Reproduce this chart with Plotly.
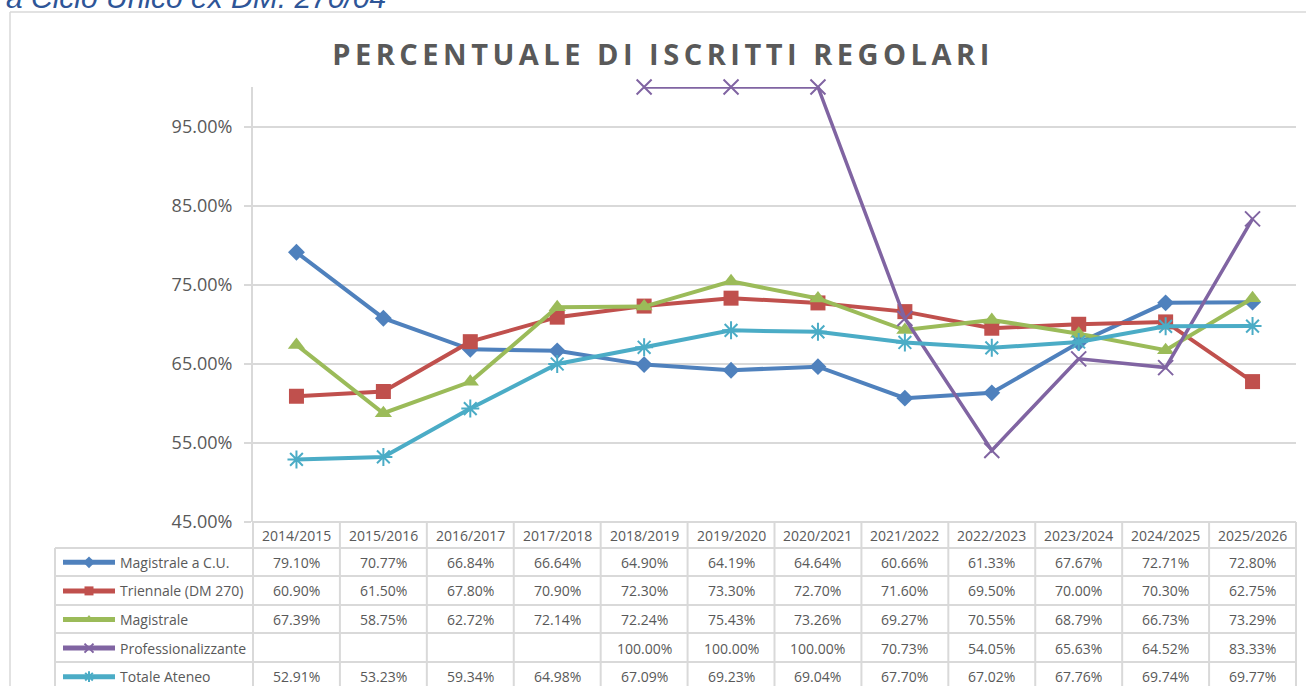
import plotly.graph_objects as go

W, H = 1306, 686

categories = ["2014/2015", "2015/2016", "2016/2017", "2017/2018", "2018/2019", "2019/2020",
              "2020/2021", "2021/2022", "2022/2023", "2023/2024", "2024/2025", "2025/2026"]

series_names = ["Magistrale a C.U.", "Triennale (DM 270)", "Magistrale",
                "Professionalizzante", "Totale Ateneo"]

magistrale_cu = [79.10, 70.77, 66.84, 66.64, 64.90, 64.19, 64.64, 60.66, 61.33, 67.67, 72.71, 72.80]
triennale = [60.90, 61.50, 67.80, 70.90, 72.30, 73.30, 72.70, 71.60, 69.50, 70.00, 70.30, 62.75]
magistrale = [67.39, 58.75, 62.72, 72.14, 72.24, 75.43, 73.26, 69.27, 70.55, 68.79, 66.73, 73.29]
professionalizzante = [None, None, None, None, 100.00, 100.00, 100.00, 70.73, 54.05, 65.63, 64.52, 83.33]
totale_ateneo = [52.91, 53.23, 59.34, 64.98, 67.09, 69.23, 69.04, 67.70, 67.02, 67.76, 69.74, 69.77]

series_values = [magistrale_cu, triennale, magistrale, professionalizzante, totale_ateneo]

y_ticks = [45, 55, 65, 75, 85, 95]
y_ticktext = [f"{v:.2f}%" for v in y_ticks]

colors = ["#4F81BD", "#C0504D", "#9BBB59", "#8064A2", "#4BACC6"]
symbols = ["diamond", "square", "triangle-up", "x-thin-open", "asterisk-open"]
msizes = [13, 15, 15, 15, 15]

TXT = "#595959"
GRID = "#D9D9D9"
FONT = "Open Sans"


def px(x):
    return x / W


def py(y):
    return 1 - y / H


# plot area in pixels
PL, PR, PT, PB = 253, 1296, 87, 522
BOTTOM = H

fig = go.Figure()

for name, vals, c, s, ms in zip(series_names, series_values, colors, symbols, msizes):
    thin = s.endswith("-open")
    fig.add_trace(go.Scatter(
        x=categories, y=vals, name=name, mode="lines+markers",
        line=dict(color=c, width=3.5 if s.startswith("x") else 4),
        marker=dict(symbol=s, size=ms, color=c,
                    line=dict(color=c, width=2 if thin else 0)),
        cliponaxis=False, connectgaps=False, showlegend=False,
    ))

# table geometry
col_w = (PR - PL) / len(categories)
row_edges = [522, 548, 576, 605, 633, 662]
shapes = []
annotations = []

# chart outer frame (left and top edges; right/bottom fall outside the view)
shapes.append(dict(type="line", xref="paper", yref="paper", x0=px(10), x1=px(10),
                   y0=py(BOTTOM), y1=py(12), line=dict(color=GRID, width=1.5), layer="below"))
shapes.append(dict(type="line", xref="paper", yref="paper", x0=px(10), x1=1,
                   y0=py(12), y1=py(12), line=dict(color=GRID, width=1.5), layer="below"))

# horizontal table lines
shapes.append(dict(type="line", xref="paper", yref="paper", x0=px(PL), x1=px(PR),
                   y0=py(row_edges[0]), y1=py(row_edges[0]), line=dict(color=GRID, width=2)))
for ry in row_edges[1:]:
    shapes.append(dict(type="line", xref="paper", yref="paper", x0=px(55), x1=px(PR),
                       y0=py(ry), y1=py(ry), line=dict(color=GRID, width=2)))
# vertical table lines
for k in range(len(categories) + 1):
    xx = PL + k * col_w
    shapes.append(dict(type="line", xref="paper", yref="paper", x0=px(xx), x1=px(xx),
                       y0=py(row_edges[0]), y1=py(BOTTOM), line=dict(color=GRID, width=2)))
shapes.append(dict(type="line", xref="paper", yref="paper", x0=px(55), x1=px(55),
                   y0=py(row_edges[1]), y1=py(BOTTOM), line=dict(color=GRID, width=2)))

TF = dict(family=FONT, size=14, color=TXT)

# header labels
for k, cat in enumerate(categories):
    annotations.append(dict(xref="paper", yref="paper", x=px(PL + (k + 0.5) * col_w),
                            y=py((row_edges[0] + row_edges[1]) / 2), text=cat, showarrow=False,
                            xanchor="center", yanchor="middle", font=TF))

# row labels and values
row_h = 28.6
for r, (name, vals) in enumerate(zip(series_names, series_values)):
    yc = row_edges[1] + (r + 0.5) * row_h
    annotations.append(dict(xref="paper", yref="paper", x=px(118), y=py(yc), text=name,
                            showarrow=False, xanchor="left", yanchor="middle", font=TF))
    for k, v in enumerate(vals):
        if v is None:
            continue
        annotations.append(dict(xref="paper", yref="paper", x=px(PL + (k + 0.5) * col_w), y=py(yc),
                                text=f"{v:.2f}%", showarrow=False, xanchor="center", yanchor="middle",
                                font=TF))
    # legend key (line + marker) on a full-figure pixel axis
    fig.add_trace(go.Scatter(x=[63, 115], y=[yc, yc], mode="lines", xaxis="x2", yaxis="y2",
                             line=dict(color=colors[r], width=5), showlegend=False, hoverinfo="skip"))
    thin = symbols[r].endswith("-open")
    fig.add_trace(go.Scatter(x=[89], y=[yc], mode="markers", xaxis="x2", yaxis="y2",
                             marker=dict(symbol=symbols[r], size=9, color=colors[r],
                                         line=dict(color=colors[r], width=2 if thin else 0)),
                             showlegend=False, hoverinfo="skip", cliponaxis=False))

# partially visible heading at very top
annotations.append(dict(xref="paper", yref="paper", x=px(4), y=py(16), text="<i>a Ciclo Unico ex DM. 270/04</i>",
                        showarrow=False, xanchor="left", yanchor="bottom",
                        font=dict(family="Liberation Sans", size=30, color="#2E5597")))

fig.update_layout(
    width=W, height=H,
    margin=dict(l=0, r=0, t=0, b=0, pad=0, autoexpand=False),
    paper_bgcolor="white", plot_bgcolor="rgba(0,0,0,0)",
    title=dict(text="<b>PERCENTUALE DI ISCRITTI REGOLARI</b>", xref="container", yref="container",
               x=663 / W, y=py(55), xanchor="center", yanchor="middle", automargin=False,
               font=dict(family=FONT, size=29, color=TXT)),
    xaxis=dict(domain=[px(PL), px(PR)], type="category", categoryorder="array", categoryarray=categories,
               range=[-0.5, len(categories) - 0.5], showgrid=False, showticklabels=False,
               showline=False, zeroline=False, ticks="", automargin=False),
    yaxis=dict(domain=[py(PB), py(PT)], range=[45, 100], tickvals=y_ticks, ticktext=y_ticktext,
               showgrid=True, gridcolor=GRID, gridwidth=2, showline=True,
               linecolor=GRID, linewidth=2, ticks="outside", ticklen=7, tickcolor=GRID, tickwidth=2,
               zeroline=False, ticklabelstandoff=8, automargin=False,
               tickfont=dict(family=FONT, size=18, color=TXT)),
    xaxis2=dict(domain=[0, 1], range=[0, W], visible=False, anchor="y2", automargin=False),
    yaxis2=dict(domain=[0, 1], range=[H, 0], visible=False, anchor="x2", automargin=False),
    shapes=shapes,
    annotations=annotations,
)

post = """
document.documentElement.style.margin = '0';
document.documentElement.style.overflow = 'hidden';
document.body.style.margin = '0';
document.body.style.padding = '0';
document.body.style.overflow = 'hidden';
var t = document.querySelector('.gtitle');
if (t) { t.style.letterSpacing = '4.5px'; }
"""

fig.write_html("out.html", post_script=post, config={"displayModeBar": False})
